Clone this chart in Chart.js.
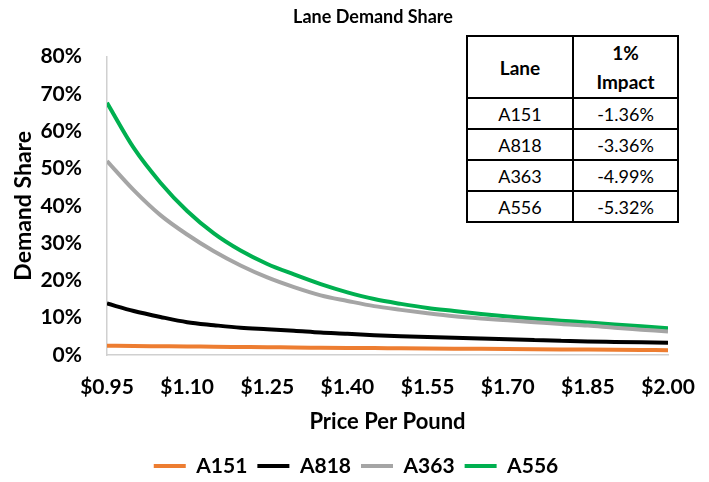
<!DOCTYPE html>
<html>
<head>
<meta charset="utf-8">
<script src="https://cdn.jsdelivr.net/npm/chart.js@4/dist/chart.umd.min.js"></script>
<style>
  body { margin: 0; background: #fff; }
  #wrap { position: relative; width: 709px; height: 482px; }
  #impact {
    position: absolute; left: 466px; top: 35px;
    border-collapse: collapse; font-family: Lato, sans-serif; background: #fff;
  }
  #impact td, #impact th {
    border: 2px solid #000; text-align: center; padding: 0; color: #000;
  }
  #impact th { font-weight: bold; font-size: 19px; height: 60px; line-height: 29px; }
  #impact td { font-size: 18px; height: 29px; }
  #impact .c1 { width: 104px; }
  #impact .c2 { width: 103px; }
</style>
</head>
<body>
<div id="wrap">
  <canvas id="chart"></canvas>
  <table id="impact">
    <tr><th class="c1">Lane</th><th class="c2">1%<br>Impact</th></tr>
    <tr><td>A151</td><td>-1.36%</td></tr>
    <tr><td>A818</td><td>-3.36%</td></tr>
    <tr><td>A363</td><td>-4.99%</td></tr>
    <tr><td>A556</td><td>-5.32%</td></tr>
  </table>
</div>
<script>
// prix par livre (pas de 0.05) et parts, en %
const prices = [0.95, 1.00, 1.05, 1.10, 1.15, 1.20, 1.25, 1.30, 1.35, 1.40, 1.45,
                1.50, 1.55, 1.60, 1.65, 1.70, 1.75, 1.80, 1.85, 1.90, 1.95, 2.00];
const a151 = [2.5, 2.4, 2.35, 2.3, 2.2, 2.15, 2.1, 2.0, 1.95, 1.9, 1.85,
              1.8, 1.75, 1.7, 1.65, 1.6, 1.55, 1.5, 1.45, 1.4, 1.35, 1.3];
const a818 = [13.8, 11.8, 10.2, 8.8, 8.0, 7.3, 6.9, 6.5, 6.0, 5.7, 5.3,
              5.0, 4.8, 4.6, 4.4, 4.2, 4.0, 3.8, 3.6, 3.5, 3.4, 3.3];
const a363 = [52.0, 44.2, 37.5, 32.3, 27.8, 24.0, 20.8, 18.2, 16.0, 14.5, 13.1,
              12.1, 11.2, 10.4, 9.8, 9.3, 8.8, 8.3, 7.9, 7.3, 6.8, 6.3];
const a556 = [67.6, 55.5, 46.2, 38.6, 32.6, 28.0, 24.4, 21.6, 19.0, 16.8, 15.0,
              13.7, 12.6, 11.8, 11.0, 10.3, 9.7, 9.2, 8.7, 8.2, 7.7, 7.2];
const xTicks = [0.95, 1.10, 1.25, 1.40, 1.55, 1.70, 1.85, 2.00];
const yTicks = [0, 10, 20, 30, 40, 50, 60, 70, 80];

const FONT = 'Lato, sans-serif';
const pts = arr => arr.map((v, i) => ({ x: prices[i], y: v }));

function line(label, data, color) {
  return {
    label: label,
    data: pts(data),
    borderColor: color,
    backgroundColor: color,
    borderWidth: 4,
    pointRadius: 0,
    cubicInterpolationMode: 'monotone',
  };
}

// titre et légende ne sont pas centrés sur la même verticale : on les recale
const recenter = {
  id: 'recenter',
  afterLayout(chart) {
    const move = (box, cx, cy) => {
      if (!box) return;
      const dx = cx - (box.left + box.right) / 2;
      box.left += dx; box.right += dx;
      if (cy != null) {
        const dy = cy - (box.top + box.bottom) / 2;
        box.top += dy; box.bottom += dy;
      }
    };
    move(chart.titleBlock, 373, null);
    move(chart.legend, 356, 466);
  },
};

new Chart(document.getElementById('chart'), {
  type: 'line',
  data: {
    datasets: [
      line('A151', a151, '#ED7D31'),
      line('A818', a818, '#000000'),
      line('A363', a363, '#A5A5A5'),
      line('A556', a556, '#00B050'),
    ],
  },
  plugins: [recenter],
  options: {
    responsive: true,
    maintainAspectRatio: false,
    animation: false,
    layout: { padding: { top: 0, left: 0, right: 41, bottom: 0 } },
    plugins: {
      title: {
        display: true,
        text: 'Lane Demand Share',
        color: '#000',
        font: { family: FONT, size: 18, weight: 'bold' },
        padding: { top: 6, bottom: 29 },
      },
      legend: {
        position: 'bottom',
        labels: {
          color: '#000',
          font: { family: FONT, size: 21, weight: 'bold' },
          boxWidth: 32,
          boxHeight: 4,
          padding: 10,
          generateLabels: (chart) =>
            Chart.defaults.plugins.legend.labels.generateLabels(chart)
              .map(l => Object.assign(l, { lineWidth: 0 })),
        },
      },
      tooltip: { enabled: false },
    },
    scales: {
      x: {
        type: 'linear',
        min: 0.95,
        max: 2.00,
        grid: { display: false },
        border: { display: true, color: '#D0D0D0', width: 1.5 },
        afterBuildTicks: (scale) => { scale.ticks = xTicks.map(v => ({ value: v })); },
        afterFit: (scale) => { scale.height = 86; },
        ticks: {
          color: '#000',
          padding: 12,
          maxRotation: 0,
          font: { family: FONT, size: 21, weight: 'bold' },
          callback: (v) => '$' + Number(v).toFixed(2),
        },
        title: {
          display: true,
          text: 'Price Per Pound',
          color: '#000',
          font: { family: FONT, size: 22, weight: 'bold' },
          padding: { top: 4, bottom: 6 },
        },
      },
      y: {
        min: 0,
        max: 80,
        grid: { display: false },
        border: { display: true, color: '#D0D0D0', width: 1.5 },
        afterBuildTicks: (scale) => { scale.ticks = yTicks.map(v => ({ value: v })); },
        afterFit: (scale) => { scale.width = 107; },
        ticks: {
          color: '#000',
          padding: 17,
          font: { family: FONT, size: 21, weight: 'bold' },
          callback: (v) => v + '%',
        },
        title: {
          display: true,
          text: 'Demand Share',
          color: '#000',
          font: { family: FONT, size: 23, weight: 'bold' },
          padding: { top: 10, bottom: 0 },
        },
      },
    },
  },
});
</script>
</body>
</html>
